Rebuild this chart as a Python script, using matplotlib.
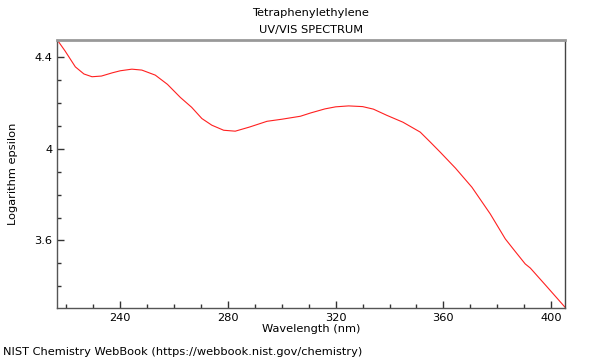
import numpy as np
import matplotlib.pyplot as plt
from matplotlib.ticker import MultipleLocator, FormatStrFormatter

# --- spectrum ---
wavelength = [216.6, 219.5, 223.3, 226.5, 229.5, 233.0, 237.0, 240.0, 244.3, 248.0,
              253.0, 257.5, 262.3, 266.5, 270.3, 274.0, 278.4, 282.7, 288.0, 294.5,
              300.0, 306.9, 310.6, 316.0, 320.0, 324.8, 330.0, 334.0, 339.0, 345.0,
              351.4, 355.1, 358.8, 364.5, 370.6, 377.4, 383.0, 386.5, 390.4, 392.3,
              398.0, 405.3]
log_eps = [4.473, 4.425, 4.356, 4.325, 4.313, 4.316, 4.330, 4.339, 4.346, 4.342,
           4.320, 4.280, 4.223, 4.180, 4.131, 4.102, 4.080, 4.076, 4.094, 4.119,
           4.128, 4.141, 4.155, 4.173, 4.182, 4.186, 4.183, 4.172, 4.145, 4.115,
           4.072, 4.029, 3.985, 3.915, 3.832, 3.716, 3.607, 3.555, 3.498, 3.480,
           3.405, 3.308]

fs = 8.2

fig = plt.figure(figsize=(6, 3.6), dpi=100)
ax = fig.add_axes([0.0955, 0.1444, 0.8467, 0.7445])
ax.plot(wavelength, log_eps, color='#ff2020', lw=0.8)

ax.set_xlim(216.6, 405.3)
ax.set_ylim(3.306, 4.473)

ax.xaxis.set_major_locator(MultipleLocator(40))
ax.xaxis.set_minor_locator(MultipleLocator(10))
ax.yaxis.set_major_locator(MultipleLocator(0.4))
ax.yaxis.set_minor_locator(MultipleLocator(0.1))
ax.yaxis.set_major_formatter(FormatStrFormatter('%g'))
ax.tick_params(which='major', direction='in', length=5, width=1, labelsize=fs,
               colors='#333333', labelcolor='black')
ax.tick_params(which='minor', direction='in', length=3, width=1, colors='#333333')

# spines: top light and heavy, others darker
ax.spines['top'].set_color('#999999')
ax.spines['top'].set_linewidth(2)
for s in ['left', 'bottom']:
    ax.spines[s].set_color('#555555')
    ax.spines[s].set_linewidth(1)
ax.spines['right'].set_color('#444444')
ax.spines['right'].set_linewidth(1)

ax.set_xlabel('Wavelength (nm)', fontsize=fs, labelpad=1)
ax.set_ylabel('Logarithm epsilon', fontsize=fs, labelpad=12)

fig.text(0.518, 0.965, 'Tetraphenylethylene', ha='center', va='center', fontsize=fs)
fig.text(0.518, 0.918, 'UV/VIS SPECTRUM', ha='center', va='center', fontsize=fs)
fig.text(0.005, 0.022, 'NIST Chemistry WebBook (https://webbook.nist.gov/chemistry)',
         ha='left', va='center', fontsize=fs)

fig.savefig('out.png', dpi=100)
